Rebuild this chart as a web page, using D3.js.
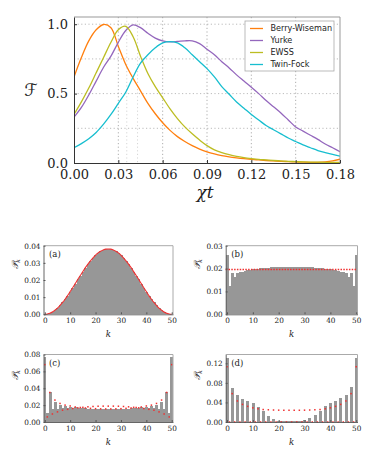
<!DOCTYPE html>
<html>
<head>
<meta charset="utf-8">
<script src="https://cdn.jsdelivr.net/npm/d3@7"></script>
<style>
  body { margin: 0; background: #fff; }
  svg { display: block; }
</style>
</head>
<body>
<div id="chart"></div>
<script>
// ---- top chart data ----
var tValues = [0, .005, .01, .015, .02, .025, .03, .035, .04, .045, .05, .055, .06, .065, .07, .075, .08, .085,
  .09, .095, .10, .105, .11, .115, .12, .125, .13, .135, .14, .145, .15, .155, .16, .165, .17, .175, .18];
var berryWiseman = [0.62, 0.76, 0.88, 0.96, 0.998, 0.975, 0.84, 0.71, 0.61, 0.52, 0.43, 0.355, 0.29, 0.235, 0.19,
  0.155, 0.125, 0.10, 0.08, 0.065, 0.053, 0.044, 0.037, 0.031, 0.026, 0.022, 0.018, 0.015, 0.012, 0.010, 0.008,
  0.006, 0.005, 0.005, 0.008, 0.015, 0.027];
var yurke = [0.33, 0.40, 0.49, 0.59, 0.69, 0.77, 0.87, 0.955, 0.995, 0.975, 0.935, 0.90, 0.88, 0.873, 0.876, 0.88,
  0.88, 0.86, 0.82, 0.78, 0.73, 0.685, 0.635, 0.59, 0.546, 0.5, 0.45, 0.405, 0.36, 0.31, 0.26, 0.23, 0.2, 0.17,
  0.137, 0.11, 0.082];
var ewss = [0.35, 0.44, 0.54, 0.65, 0.76, 0.87, 0.96, 0.985, 0.91, 0.77, 0.645, 0.55, 0.47, 0.39, 0.32, 0.26, 0.21,
  0.165, 0.125, 0.095, 0.075, 0.06, 0.048, 0.039, 0.032, 0.026, 0.022, 0.018, 0.015, 0.012, 0.010, 0.008, 0.007,
  0.006, 0.005, 0.005, 0.004];
var twinFock = [0.11, 0.14, 0.175, 0.22, 0.28, 0.35, 0.43, 0.51, 0.62, 0.72, 0.78, 0.83, 0.865, 0.875, 0.865, 0.83,
  0.78, 0.73, 0.68, 0.62, 0.55, 0.495, 0.44, 0.395, 0.35, 0.31, 0.27, 0.24, 0.21, 0.18, 0.155, 0.13, 0.11, 0.09,
  0.075, 0.062, 0.05];
var seriesNames = ["Berry-Wiseman", "Yurke", "EWSS", "Twin-Fock"];
var seriesColors = ["#ff7f0e", "#9467bd", "#bcbd22", "#17becf"];
var xTicks = [0, 0.03, 0.06, 0.09, 0.12, 0.15, 0.18];
var yTicks = [0, 0.5, 1.0];
var yGrid = [0.25, 0.5, 0.75, 1.0];
var xGridExtra = [0.0357, 0.043];

// ---- histogram panels, k = 0..50 ----
var kTicks = [0, 10, 20, 30, 40, 50];
var pa = [0, 0.0002, 0.0006, 0.0013, 0.0024, 0.0036, 0.0052, 0.0069, 0.0088, 0.0109,
  0.0132, 0.0155, 0.0179, 0.0203, 0.0226, 0.0249, 0.0272, 0.0293, 0.0312, 0.0329,
  0.0345, 0.0358, 0.0368, 0.0375, 0.0380, 0.0381, 0.0380, 0.0375, 0.0368, 0.0358,
  0.0345, 0.0329, 0.0312, 0.0293, 0.0272, 0.0249, 0.0226, 0.0203, 0.0179, 0.0155,
  0.0132, 0.0109, 0.0088, 0.0069, 0.0052, 0.0036, 0.0024, 0.0013, 0.0006, 0.0002, 0];
var pb = [0.0258, 0.0124, 0.0180, 0.0165, 0.0181, 0.0184, 0.0187, 0.0190, 0.0192, 0.0194,
  0.0196, 0.0198, 0.0200, 0.0201, 0.0202, 0.0203, 0.0204, 0.0205, 0.0206, 0.0207,
  0.0207, 0.0208, 0.0208, 0.0208, 0.0209, 0.0209, 0.0209, 0.0208, 0.0208, 0.0208,
  0.0207, 0.0207, 0.0206, 0.0205, 0.0204, 0.0203, 0.0202, 0.0201, 0.0200, 0.0198,
  0.0196, 0.0194, 0.0192, 0.0190, 0.0187, 0.0184, 0.0181, 0.0165, 0.0180, 0.0124, 0.0258];
var pbUniform = 0.0196;
var pc = [0.077, 0.011, 0.035, 0.015, 0.024, 0.016, 0.020, 0.017, 0.019, 0.017,
  0.018, 0.017, 0.0172, 0.0167, 0.0166, 0.0163, 0.0161, 0.0159, 0.0157, 0.0156,
  0.0155, 0.0155, 0.0155, 0.0155, 0.0155, 0.0155, 0.0155, 0.0155, 0.0155, 0.0155,
  0.0155, 0.0156, 0.0157, 0.0159, 0.0161, 0.0163, 0.0166, 0.0167, 0.0172, 0.017,
  0.018, 0.017, 0.019, 0.017, 0.020, 0.016, 0.024, 0.015, 0.035, 0.011, 0.077];
var pcRed = [0.068, 0.006, 0.035, 0.0095, 0.026, 0.012, 0.022, 0.014, 0.020, 0.015,
  0.019, 0.016, 0.0178, 0.0168, 0.0172, 0.0174, 0.0166, 0.0180, 0.0162, 0.0184,
  0.0158, 0.0187, 0.0156, 0.0188, 0.0155, 0.0188, 0.0155, 0.0188, 0.0156, 0.0187,
  0.0158, 0.0184, 0.0162, 0.0180, 0.0166, 0.0174, 0.0172, 0.0168, 0.0178, 0.016,
  0.019, 0.015, 0.020, 0.014, 0.022, 0.012, 0.026, 0.0095, 0.035, 0.006, 0.068];
var pd = [0.131, 0, 0.070, 0, 0.056, 0, 0.048, 0, 0.043, 0,
  0.038, 0, 0.031, 0, 0.022, 0, 0.013, 0, 0.0065, 0.001,
  0.003, 0.003, 0.003, 0.003, 0.003, 0.003, 0.003, 0.003, 0.003, 0.003,
  0.004, 0.001, 0.0075, 0, 0.014, 0, 0.022, 0, 0.032, 0,
  0.038, 0, 0.043, 0, 0.049, 0, 0.056, 0, 0.071, 0, 0.131];
var pdRed = [0.113, 0, 0.058, 0, 0.043, 0, 0.036, 0, 0.032, 0,
  0.029, 0, 0.027, 0, 0.0255, 0, 0.025, 0, 0.0245, 0,
  0.0242, 0, 0.024, 0, 0.024, 0, 0.024, 0, 0.024, 0,
  0.0242, 0, 0.0245, 0, 0.025, 0, 0.0255, 0, 0.027, 0,
  0.029, 0, 0.032, 0, 0.036, 0, 0.043, 0, 0.058, 0, 0.113];

var W = 373, H = 450;
var svg = d3.select("#chart").append("svg")
  .attr("width", W)
  .attr("height", H);

var serif = "'DejaVu Serif', serif";

// ================= top chart =================
var box = { left: 74, right: 340, top: 17, bottom: 163 };
var x = d3.scaleLinear().domain([0, 0.18]).range([box.left, box.right]);
var y = d3.scaleLinear().domain([0, 1.052]).range([box.bottom, box.top]);

var topG = svg.append("g");

// grid
topG.selectAll(".hgrid").data(yGrid).enter().append("line")
  .attr("x1", box.left).attr("x2", box.right)
  .attr("y1", function (d) { return y(d); }).attr("y2", function (d) { return y(d); })
  .attr("stroke", "#aaa").attr("stroke-width", 0.8).attr("stroke-dasharray", "1.2,2.4");
topG.selectAll(".vgrid").data(xTicks.slice(1, -1)).enter().append("line")
  .attr("x1", function (d) { return x(d); }).attr("x2", function (d) { return x(d); })
  .attr("y1", box.top).attr("y2", box.bottom)
  .attr("stroke", "#999").attr("stroke-width", 0.8).attr("stroke-dasharray", "1.2,2.4");
topG.selectAll(".vgrid2").data(xGridExtra).enter().append("line")
  .attr("x1", function (d) { return x(d); }).attr("x2", function (d) { return x(d); })
  .attr("y1", box.top).attr("y2", box.bottom)
  .attr("stroke", "#ccc").attr("stroke-width", 0.8).attr("stroke-dasharray", "1.2,2.4");

var allSeries = [berryWiseman, yurke, ewss, twinFock];
var line = d3.line()
  .x(function (d, i) { return x(tValues[i]); })
  .y(function (d) { return y(d); })
  .curve(d3.curveCatmullRom.alpha(0.5));

topG.append("defs").append("clipPath").attr("id", "topclip")
  .append("rect").attr("x", box.left).attr("y", box.top)
  .attr("width", box.right - box.left).attr("height", box.bottom - box.top);

topG.append("g").attr("clip-path", "url(#topclip)")
  .selectAll("path").data(allSeries).enter().append("path")
  .attr("d", line)
  .attr("fill", "none")
  .attr("stroke", function (d, i) { return seriesColors[i]; })
  .attr("stroke-width", 1.3);

// frame
topG.append("line").attr("x1", box.left).attr("x2", box.right).attr("y1", box.top).attr("y2", box.top)
  .attr("stroke", "#999").attr("stroke-width", 1);
topG.append("line").attr("x1", box.right).attr("x2", box.right).attr("y1", box.top).attr("y2", box.bottom)
  .attr("stroke", "#999").attr("stroke-width", 1);

var xAxis = d3.axisBottom(x).tickValues(xTicks).tickFormat(d3.format(".2f")).tickSizeInner(-3).tickSizeOuter(0).tickPadding(7);
var yAxis = d3.axisLeft(y).tickValues(yTicks).tickFormat(d3.format(".1f")).tickSizeInner(-3).tickSizeOuter(0).tickPadding(6);

var gx = topG.append("g").attr("transform", "translate(0," + box.bottom + ")").call(xAxis);
var gy = topG.append("g").attr("transform", "translate(" + box.left + ",0)").call(yAxis);
[gx, gy].forEach(function (g) {
  g.select(".domain").attr("stroke", "#333").attr("stroke-width", 1);
  g.selectAll(".tick line").attr("stroke", "#333");
  g.selectAll("text").attr("font-family", serif).attr("font-size", 13).attr("fill", "#222");
});

topG.append("text")
  .attr("x", (box.left + box.right) / 2 - 2).attr("y", 198)
  .attr("text-anchor", "middle")
  .attr("font-family", serif).attr("font-style", "italic").attr("font-size", 17)
  .attr("fill", "#222")
  .text("χt");
topG.append("text")
  .attr("x", 31).attr("y", 96)
  .attr("text-anchor", "middle")
  .attr("font-family", "'DejaVu Sans', serif").attr("font-size", 17)
  .attr("fill", "#222")
  .text("ℱ");

// legend
var leg = topG.append("g");
leg.append("rect")
  .attr("x", 245).attr("y", 21).attr("width", 89).attr("height", 50)
  .attr("fill", "#fff").attr("stroke", "#aaa").attr("stroke-width", 0.8);
var legRow = d3.scaleLinear().domain([0, 3]).range([28.5, 64.5]);
var items = leg.selectAll(".item").data(seriesNames).enter().append("g")
  .attr("transform", function (d, i) { return "translate(0," + legRow(i) + ")"; });
items.append("line")
  .attr("x1", 250).attr("x2", 263).attr("y1", 0).attr("y2", 0)
  .attr("stroke", function (d, i) { return seriesColors[i]; })
  .attr("stroke-width", 1.3);
items.append("text")
  .attr("x", 270.5).attr("y", 0).attr("dy", "0.35em")
  .attr("font-family", "'DejaVu Sans', sans-serif").attr("font-size", 8.1)
  .attr("fill", "#222")
  .text(function (d) { return d; });

// ================= histogram panels =================
var panels = [
  { id: "a", bars: pa, line: pa, ymax: 0.04, ticks: [0, 0.01, 0.02, 0.03, 0.04],
    left: 43.5, right: 173, top: 245.7, bottom: 314.3, labelY: 264 },
  { id: "b", bars: pb, flat: pbUniform, ymax: 0.03, ticks: [0, 0.01, 0.02, 0.03],
    left: 225.7, right: 357.5, top: 245.7, bottom: 314.3, labelY: 264 },
  { id: "c", bars: pc, dots: pcRed, ymax: 0.08, ticks: [0, 0.02, 0.04, 0.06, 0.08],
    left: 43.5, right: 173, top: 354.5, bottom: 422, labelY: 375 },
  { id: "d", bars: pd, dots: pdRed, ymax: 0.138, ticks: [0, 0.04, 0.08, 0.12],
    left: 225.7, right: 357.5, top: 354.5, bottom: 422, labelY: 375 }
];

var red = "#f03030";
var barGray = "#979797";

panels.forEach(function (p) {
  var g = svg.append("g");
  var kx = d3.scaleLinear().domain([-0.5, 50.5]).range([p.left, p.right]);
  var py = d3.scaleLinear().domain([0, p.ymax]).range([p.bottom, p.top]);
  var bw = kx(1) - kx(0);

  g.selectAll(".bar").data(p.bars).enter().append("rect")
    .attr("x", function (d, i) { return kx(i) - bw / 2; })
    .attr("width", bw + 0.4)
    .attr("y", function (d) { return py(d); })
    .attr("height", function (d) { return p.bottom - py(d); })
    .attr("fill", barGray)
    .attr("shape-rendering", "crispEdges");

  if (p.line) {
    g.append("path")
      .datum(p.line)
      .attr("d", d3.line()
        .x(function (d, i) { return kx(i); })
        .y(function (d) { return py(d); })
        .curve(d3.curveMonotoneX))
      .attr("fill", "none").attr("stroke", red).attr("stroke-width", 1.1);
  }
  if (p.flat !== undefined) {
    g.append("line")
      .attr("x1", p.left).attr("x2", p.right)
      .attr("y1", py(p.flat)).attr("y2", py(p.flat))
      .attr("stroke", red).attr("stroke-width", 1.3).attr("stroke-dasharray", "1.5,1.3");
  }
  if (p.dots) {
    g.selectAll(".dot").data(p.dots).enter().append("rect")
      .attr("x", function (d, i) { return kx(i) - 0.75; })
      .attr("y", function (d) { return py(d) - 0.75; })
      .attr("width", 1.5).attr("height", 1.5)
      .attr("fill", red);
  }

  // frame
  g.append("line").attr("x1", p.left).attr("x2", p.right).attr("y1", p.top).attr("y2", p.top)
    .attr("stroke", "#aaa").attr("stroke-width", 1);
  g.append("line").attr("x1", p.right).attr("x2", p.right).attr("y1", p.top).attr("y2", p.bottom)
    .attr("stroke", "#aaa").attr("stroke-width", 1);

  var ax = d3.axisBottom(kx).tickValues(kTicks).tickSizeInner(-2).tickSizeOuter(0).tickPadding(4);
  var ay = d3.axisLeft(py).tickValues(p.ticks).tickFormat(d3.format(".2f")).tickSizeInner(-2).tickSizeOuter(0).tickPadding(3);
  var gax = g.append("g").attr("transform", "translate(0," + p.bottom + ")").call(ax);
  var gay = g.append("g").attr("transform", "translate(" + p.left + ",0)").call(ay);
  [gax, gay].forEach(function (a) {
    a.select(".domain").attr("stroke", "#555").attr("stroke-width", 0.9);
    a.selectAll(".tick line").attr("stroke", "#555");
    a.selectAll("text").attr("font-family", serif).attr("font-size", 7.3).attr("fill", "#222");
  });

  g.append("text")
    .attr("x", p.left + 5.5).attr("y", p.top + 11.5)
    .attr("font-family", serif).attr("font-size", 8.5).attr("fill", "#222")
    .text("(" + p.id + ")");

  g.append("text")
    .attr("x", (p.left + p.right) / 2).attr("y", p.bottom + 23)
    .attr("text-anchor", "middle")
    .attr("font-family", serif).attr("font-style", "italic").attr("font-size", 8.5)
    .attr("fill", "#222")
    .text("k");

  var yl = g.append("text")
    .attr("transform", "translate(" + (p.left - 25.5) + "," + p.labelY + ") rotate(-90)")
    .attr("text-anchor", "middle")
    .attr("font-family", serif).attr("font-style", "italic").attr("font-size", 9)
    .attr("fill", "#222");
  yl.append("tspan").text("𝒫");
  yl.append("tspan").attr("font-size", 6).attr("dy", 2).text("k");
});
</script>
</body>
</html>
